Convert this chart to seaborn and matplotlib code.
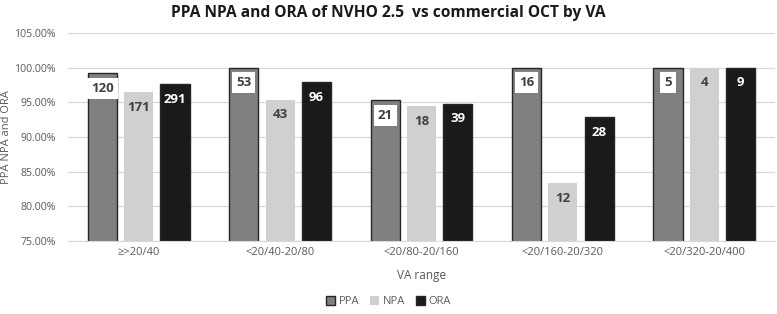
import numpy as np
import pandas as pd
import matplotlib
matplotlib.use("Agg")
import matplotlib.pyplot as plt
import seaborn as sns
from matplotlib.ticker import PercentFormatter, MultipleLocator

# 数据
va_ranges = ['≥>20/40', '<20/40-20/80', '<20/80-20/160', '<20/160-20/320', '<20/320-20/400']
ppa = [0.992, 1.000, 0.953, 1.000, 1.000]
npa = [0.965, 0.954, 0.944, 0.834, 1.000]
ora = [0.976, 0.979, 0.948, 0.929, 1.000]
ppa_n = [120, 53, 21, 16, 5]
npa_n = [171, 43, 18, 12, 4]
ora_n = [291, 96, 39, 28, 9]

metrics = ['PPA', 'NPA', 'ORA']
colors = {'PPA': '#808080', 'NPA': '#d0d0d0', 'ORA': '#1a1a1a'}
edges = {'PPA': '#262626', 'NPA': '#d0d0d0', 'ORA': '#262626'}

df = pd.DataFrame({
    'VA range': va_ranges * 3,
    'metric': ['PPA'] * 5 + ['NPA'] * 5 + ['ORA'] * 5,
    'value': ppa + npa + ora,
    'n': ppa_n + npa_n + ora_n,
})

sns.set_style('white')
plt.rcParams['font.family'] = ['Open Sans', 'DejaVu Sans']

fig, ax = plt.subplots(figsize=(7.77, 3.14), dpi=100)
fig.subplots_adjust(left=68/777, right=775/777, top=1-33/314, bottom=1-241/314)

sns.barplot(data=df, x='VA range', y='value', hue='metric', hue_order=metrics,
            palette=colors, width=0.77, gap=0.2, ax=ax, legend=False)

# 边框和标签
for cont, m in zip(ax.containers, metrics):
    counts = df.loc[df['metric'] == m, 'n'].tolist()
    for bar, c in zip(cont, counts):
        bar.set_edgecolor(edges[m])
        bar.set_linewidth(1.0 if m != 'NPA' else 0)
        x = bar.get_x() + bar.get_width() / 2
        y = bar.get_height()
        if m == 'PPA':
            ax.annotate(str(c), (x, y), xytext=(0, -11), textcoords='offset points',
                        ha='center', va='center', fontsize=9.5, fontweight='bold', color='#404040',
                        bbox=dict(boxstyle='square,pad=0.3', fc='white', ec='none'))
        elif m == 'NPA':
            ax.annotate(str(c), (x, y), xytext=(0, -11), textcoords='offset points',
                        ha='center', va='center', fontsize=9.5, fontweight='bold', color='#404040')
        else:
            ax.annotate(str(c), (x, y), xytext=(0, -11), textcoords='offset points',
                        ha='center', va='center', fontsize=9.5, fontweight='bold', color='white')

ax.set_ylim(0.75, 1.05)
ax.yaxis.set_major_locator(MultipleLocator(0.05))
ax.yaxis.set_major_formatter(PercentFormatter(1, decimals=2))
ax.grid(axis='y', color='#d9d9d9', lw=0.9)
ax.set_axisbelow(True)
for s in ['top', 'right', 'left']:
    ax.spines[s].set_visible(False)
ax.spines['bottom'].set_color('#d9d9d9')
ax.tick_params(axis='y', length=0, labelsize=7.6, colors='#595959', pad=9)
ax.tick_params(axis='x', length=0, labelsize=8, colors='#595959', pad=4)
ax.set_xlabel('VA range', fontsize=8.5, color='#595959', labelpad=8)
ax.set_ylabel('PPA NPA and ORA', fontsize=8, color='#595959')
ax.yaxis.set_label_coords(-0.079, 0.5)
ax.set_xlim(-0.5, 4.5)

fig.suptitle('PPA NPA and ORA of NVHO 2.5  vs commercial OCT by VA', x=0.5, y=0.985,
             fontsize=11.2, fontweight='bold', color='#1a1a1a')

handles = [plt.Rectangle((0, 0), 1, 1, fc=colors[m], ec=edges[m], lw=1 if m != 'NPA' else 0)
           for m in metrics]
leg = fig.legend(handles, metrics, loc='lower center', bbox_to_anchor=(0.5, -0.01), ncol=3,
                 frameon=False, fontsize=8, handlelength=0.8, handleheight=0.8,
                 handletextpad=0.3, columnspacing=1.0)
for t in leg.get_texts():
    t.set_color('#595959')

fig.savefig('out.png', dpi=100)
